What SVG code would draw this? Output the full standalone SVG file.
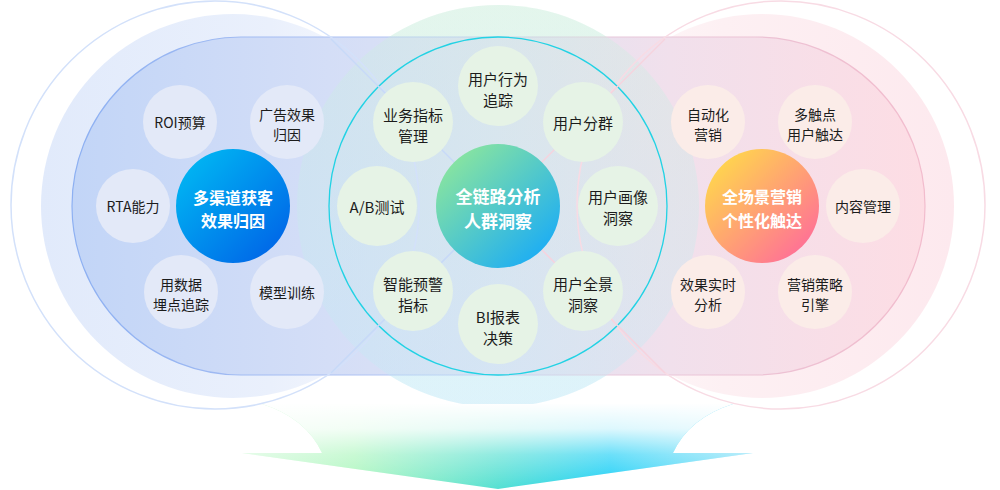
<svg xmlns="http://www.w3.org/2000/svg" width="1000" height="490" viewBox="0 0 1000 490">
<defs>
<style>
text{font-family:"Noto Sans CJK SC","Noto Sans",sans-serif;text-anchor:middle;dominant-baseline:central}
.s{font-size:14px;fill:#1c1c1c}
.sm{font-size:15px;fill:#1c1c1c}
.c{font-size:16px;fill:#fff;font-weight:700}
.cm{font-size:17px;fill:#fff;font-weight:700}
.ls{fill:#e3e9f8}
.ms{fill:#e6f3e6}
.rs{fill:#fbece8}
.ring{fill:none;stroke-width:1.5}
</style>
<linearGradient id="gLF" x1="41" y1="0" x2="425" y2="0" gradientUnits="userSpaceOnUse">
<stop offset="0" stop-color="#e1eafb"/><stop offset="0.6" stop-color="#eaf0fc"/><stop offset="1" stop-color="#fbfbfe"/>
</linearGradient>
<linearGradient id="gRF" x1="570" y1="0" x2="954" y2="0" gradientUnits="userSpaceOnUse">
<stop offset="0" stop-color="#fefbfc"/><stop offset="0.4" stop-color="#fdf0f3"/><stop offset="1" stop-color="#fde9ee"/>
</linearGradient>
<linearGradient id="gMid" x1="0" y1="5" x2="0" y2="407" gradientUnits="userSpaceOnUse">
<stop offset="0" stop-color="#cdeedd"/><stop offset="1" stop-color="#c2e9f7"/>
</linearGradient>
<linearGradient id="gPill" x1="72" y1="0" x2="925" y2="0" gradientUnits="userSpaceOnUse">
<stop offset="0" stop-color="#c2d5f7"/><stop offset="0.3" stop-color="#d4def7"/><stop offset="0.5" stop-color="#e0e2f3"/><stop offset="0.7" stop-color="#f1e0ec"/><stop offset="1" stop-color="#fddde4"/>
</linearGradient>
<linearGradient id="gPillS" x1="72" y1="0" x2="925" y2="0" gradientUnits="userSpaceOnUse">
<stop offset="0" stop-color="#8db0f2"/><stop offset="0.45" stop-color="#b9c8f3"/><stop offset="0.6" stop-color="#e6c9dc"/><stop offset="1" stop-color="#f2bccd"/>
</linearGradient>
<linearGradient id="gLC" x1="0" y1="0" x2="1" y2="1">
<stop offset="0" stop-color="#00c0f4"/><stop offset="1" stop-color="#005ce6"/>
</linearGradient>
<linearGradient id="gMC" x1="0.15" y1="0.1" x2="0.9" y2="0.9">
<stop offset="0" stop-color="#88e4a0"/><stop offset="1" stop-color="#1aacf6"/>
</linearGradient>
<linearGradient id="gRC" x1="0.1" y1="0.1" x2="0.9" y2="0.9">
<stop offset="0" stop-color="#ffd84c"/><stop offset="1" stop-color="#ff6e98"/>
</linearGradient>
<linearGradient id="gArr" x1="242" y1="0" x2="753" y2="0" gradientUnits="userSpaceOnUse">
<stop offset="0" stop-color="#d6fadc"/><stop offset="0.22" stop-color="#acf6bd"/><stop offset="0.5" stop-color="#55e0d2"/><stop offset="0.72" stop-color="#1ccff6"/><stop offset="1" stop-color="#90e2f8"/>
</linearGradient>
<linearGradient id="gArrW" x1="0" y1="403" x2="0" y2="489" gradientUnits="userSpaceOnUse">
<stop offset="0" stop-color="#fff" stop-opacity="1"/><stop offset="0.3" stop-color="#fff" stop-opacity="0.85"/><stop offset="0.6" stop-color="#fff" stop-opacity="0.35"/><stop offset="1" stop-color="#fff" stop-opacity="0"/>
</linearGradient>
</defs>

<g id="background">
<circle cx="233" cy="206" r="192" fill="url(#gLF)"/>
<circle cx="762" cy="206" r="192" fill="url(#gRF)"/>
<circle cx="498" cy="206" r="201" fill="url(#gMid)" opacity="0.3"/>
<rect x="72" y="37" width="853" height="338" rx="169" fill="url(#gPill)" stroke="url(#gPillS)" stroke-width="1.2"/>
<circle cx="498" cy="206" r="201" fill="url(#gMid)" opacity="0.36"/>
<circle class="ring" cx="215" cy="205" r="204" stroke="#d3e1fa"/>
<circle class="ring" cx="781" cy="205" r="204" stroke="#f8dbe4"/>
<circle cx="498" cy="206" r="169" fill="none" stroke="#22d2e4" stroke-width="1.3"/>
</g>

<g id="connectors" stroke-width="1.5" fill="none">
<line x1="498" y1="206" x2="331" y2="39" stroke="#c7d9f8"/>
<line x1="498" y1="206" x2="331" y2="373" stroke="#c7d9f8"/>
<line x1="498" y1="206" x2="665" y2="39" stroke="#f6d3de"/>
<line x1="498" y1="206" x2="665" y2="373" stroke="#f6d3de"/>
</g>

<g id="arrow">
<path d="M262,404 Q306,418 322,453 L242,453 L498,489 L753,453 L673,453 Q689,418 733,404 Z" fill="url(#gArr)"/>
<path d="M262,404 Q306,418 322,453 L242,453 L498,489 L753,453 L673,453 Q689,418 733,404 Z" fill="url(#gArrW)"/>
</g>

<g id="left-center"><circle cx="233" cy="206" r="57" fill="url(#gLC)"/><text class="c" x="233" y="196.5">多渠道获客</text><text class="c" x="233" y="220">效果归因</text></g>
<g id="l-roi"><circle class="ls" cx="180" cy="122" r="37"/><text class="s" x="180" y="122">ROI预算</text></g>
<g id="l-ad"><circle class="ls" cx="287" cy="122" r="37"/><text class="s" x="287" y="114">广告效果</text><text class="s" x="287" y="134">归因</text></g>
<g id="l-rta"><circle class="ls" cx="133" cy="206" r="37"/><text class="s" x="133" y="206">RTA能力</text></g>
<g id="l-track"><circle class="ls" cx="181" cy="292" r="37"/><text class="s" x="181" y="284">用数据</text><text class="s" x="181" y="304">埋点追踪</text></g>
<g id="l-model"><circle class="ls" cx="287" cy="292" r="37"/><text class="s" x="287" y="292">模型训练</text></g>

<g id="mid-center"><circle cx="498" cy="206" r="62" fill="url(#gMC)"/><text class="cm" x="498" y="195">全链路分析</text><text class="cm" x="498" y="220">人群洞察</text></g>
<g id="m-behavior"><circle class="ms" cx="498" cy="86" r="40"/><text class="sm" x="498" y="78">用户行为</text><text class="sm" x="498" y="99">追踪</text></g>
<g id="m-group"><circle class="ms" cx="583" cy="122" r="40"/><text class="sm" x="583" y="122">用户分群</text></g>
<g id="m-portrait"><circle class="ms" cx="618" cy="206" r="40"/><text class="sm" x="618" y="196">用户画像</text><text class="sm" x="618" y="217">洞察</text></g>
<g id="m-panorama"><circle class="ms" cx="583" cy="291" r="40"/><text class="sm" x="583" y="283">用户全景</text><text class="sm" x="583" y="304">洞察</text></g>
<g id="m-bi"><circle class="ms" cx="498" cy="324" r="40"/><text class="sm" x="498" y="316">BI报表</text><text class="sm" x="498" y="337">决策</text></g>
<g id="m-alert"><circle class="ms" cx="413" cy="291" r="40"/><text class="sm" x="413" y="283">智能预警</text><text class="sm" x="413" y="304">指标</text></g>
<g id="m-ab"><circle class="ms" cx="377" cy="206" r="40"/><text class="sm" x="377" y="206">A/B测试</text></g>
<g id="m-kpi"><circle class="ms" cx="413" cy="122" r="40"/><text class="sm" x="413" y="114">业务指标</text><text class="sm" x="413" y="135">管理</text></g>

<g id="right-center"><circle cx="762" cy="206" r="57" fill="url(#gRC)"/><text class="c" x="762" y="195.5">全场景营销</text><text class="c" x="762" y="220">个性化触达</text></g>
<g id="r-auto"><circle class="rs" cx="708" cy="122" r="37"/><text class="s" x="708" y="114">自动化</text><text class="s" x="708" y="134">营销</text></g>
<g id="r-touch"><circle class="rs" cx="815" cy="122" r="37"/><text class="s" x="815" y="114">多触点</text><text class="s" x="815" y="134">用户触达</text></g>
<g id="r-content"><circle class="rs" cx="863" cy="206" r="37"/><text class="s" x="863" y="206">内容管理</text></g>
<g id="r-realtime"><circle class="rs" cx="708" cy="292" r="37"/><text class="s" x="708" y="284">效果实时</text><text class="s" x="708" y="304">分析</text></g>
<g id="r-engine"><circle class="rs" cx="815" cy="292" r="37"/><text class="s" x="815" y="284">营销策略</text><text class="s" x="815" y="304">引擎</text></g>
</svg>
